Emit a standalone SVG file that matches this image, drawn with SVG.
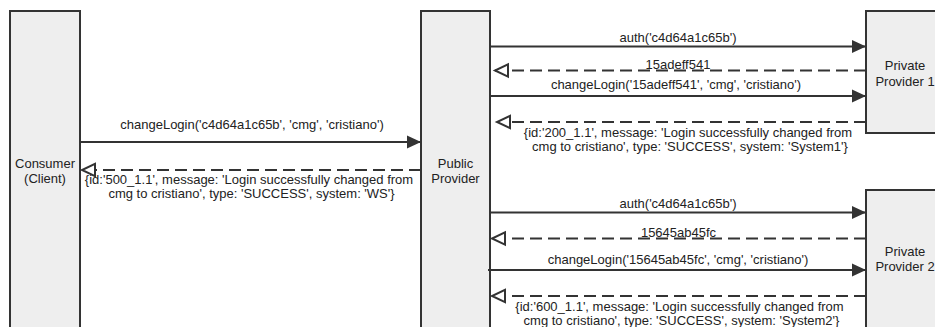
<svg xmlns="http://www.w3.org/2000/svg" width="935" height="327" viewBox="0 0 935 327">
  <style>
    .box { fill: #eeeeee; stroke: #333333; stroke-width: 2; }
    .name { font-family: "Liberation Sans", Arial, sans-serif; font-size: 13px; fill: #222222; text-anchor: middle; }
    .msg { fill: none; stroke: #333333; stroke-width: 2; }
    .call { marker-end: url(#solidHead); }
    .reply { stroke-dasharray: 12 6; marker-end: url(#openHead); }
    .label { font-family: "Liberation Sans", Arial, sans-serif; font-size: 13px; fill: #222222; text-anchor: middle; }
  </style>
  <defs>
    <marker id="solidHead" markerUnits="userSpaceOnUse" markerWidth="16" markerHeight="16" refX="14" refY="7" orient="auto" overflow="visible">
      <path d="M0,0.5 L14,7 L0,13.5 Z" fill="#333333"/>
    </marker>
    <marker id="openHead" markerUnits="userSpaceOnUse" markerWidth="16" markerHeight="16" refX="14" refY="7" orient="auto" overflow="visible">
      <path d="M1,0.8 L14,7 L1,13.2 Z" fill="#ffffff" stroke="#333333" stroke-width="2"/>
    </marker>
  </defs>

  <rect width="935" height="327" fill="#ffffff"/>

  <!-- participants -->
  <g id="consumer">
    <rect class="box" x="10" y="11" width="70" height="330"/>
    <text class="name" x="45" y="167.5">Consumer</text>
    <text class="name" x="45" y="182.5">(Client)</text>
  </g>
  <g id="public-provider">
    <rect class="box" x="421" y="11" width="69" height="330"/>
    <text class="name" x="455.5" y="167.5">Public</text>
    <text class="name" x="455.5" y="182.5">Provider</text>
  </g>
  <g id="private-provider-1">
    <rect class="box" x="866" y="11" width="78" height="122"/>
    <text class="name" x="905" y="70">Private</text>
    <text class="name" x="905" y="85.5">Provider 1</text>
  </g>
  <g id="private-provider-2">
    <rect class="box" x="866" y="190" width="78" height="160"/>
    <text class="name" x="905" y="256">Private</text>
    <text class="name" x="905" y="271">Provider 2</text>
  </g>

  <!-- messages: solid calls, dashed replies drawn from the callee back to the caller -->
  <g id="connectors">
    <path class="msg call" d="M80,142 H421"/>
    <path class="msg reply" d="M421,170 H82"/>

    <path class="msg call" d="M490,46.5 H866"/>
    <path class="msg reply" d="M866,70.5 H495"/>
    <path class="msg call" d="M490,96 H866"/>
    <path class="msg reply" d="M866,122 H497"/>

    <path class="msg call" d="M490,212.5 H866"/>
    <path class="msg reply" d="M866,238.5 H492"/>
    <path class="msg call" d="M488,270 H866"/>
    <path class="msg reply" d="M866,296 H492"/>
  </g>

  <g id="labels">
    <text class="label" x="252" y="129">changeLogin('c4d64a1c65b', 'cmg', 'cristiano')</text>
    <text class="label" x="249" y="184">{id:'500_1.1', message: 'Login successfully changed from</text>
    <text class="label" x="251.5" y="198">cmg to cristiano', type: 'SUCCESS', system: 'WS'}</text>

    <text class="label" x="678" y="42">auth('c4d64a1c65b')</text>
    <text class="label" x="678" y="68.5">15adeff541</text>
    <text class="label" x="676" y="89">changeLogin('15adeff541', 'cmg', 'cristiano')</text>
    <text class="label" x="688" y="136.5">{id:'200_1.1', message: 'Login successfully changed from</text>
    <text class="label" x="690" y="151">cmg to cristiano', type: 'SUCCESS', system: 'System1'}</text>

    <text class="label" x="678" y="208">auth('c4d64a1c65b')</text>
    <text class="label" x="678.5" y="236.5">15645ab45fc</text>
    <text class="label" x="678" y="263.5">changeLogin('15645ab45fc', 'cmg', 'cristiano')</text>
    <text class="label" x="679.5" y="310.5">{id:'600_1.1', message: 'Login successfully changed from</text>
    <text class="label" x="681.5" y="324.5">cmg to cristiano', type: 'SUCCESS', system: 'System2'}</text>
  </g>
</svg>
